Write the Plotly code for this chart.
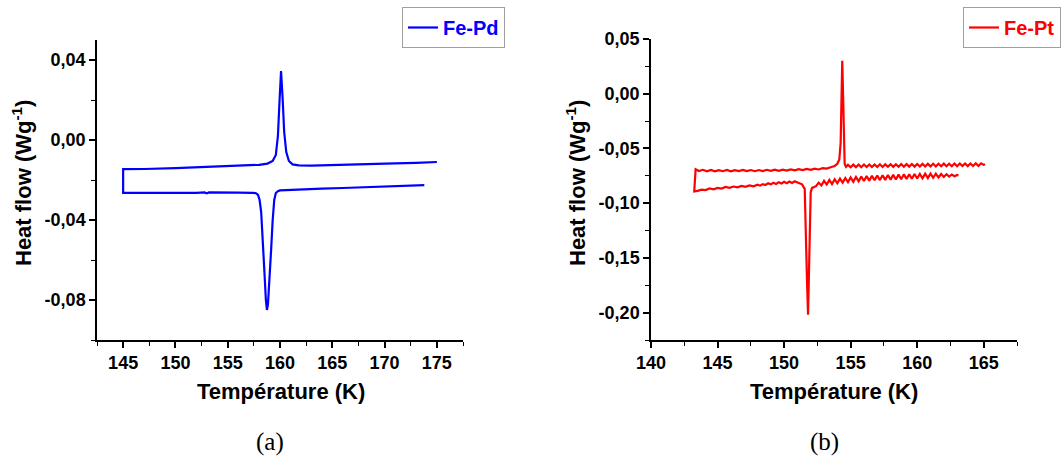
import plotly.graph_objects as go

# ---------------- data ----------------
# Fe-Pd : cooling branch (lower curve), increasing T
fepd_cool_x = [145.0, 146, 148, 150, 152, 152.8, 153.0, 153.2, 154, 156, 157.4, 157.7, 157.9,
               158.05, 158.2, 158.35, 158.5, 158.65, 158.75, 158.85, 159.0, 159.15, 159.3,
               159.45, 159.6, 159.8, 160, 161, 162, 164, 166, 168, 170, 172, 173.8]
fepd_cool_y = [-0.0264, -0.0263, -0.0264, -0.0263, -0.0264, -0.0262, -0.0267, -0.0262, -0.0264,
               -0.0263, -0.0264, -0.0266, -0.0275, -0.030, -0.036, -0.048, -0.065, -0.080,
               -0.085, -0.082, -0.070, -0.055, -0.040, -0.030, -0.0265, -0.0256, -0.0252,
               -0.0249, -0.0247, -0.0243, -0.0240, -0.0237, -0.0233, -0.0230, -0.0226]
# Fe-Pd : heating branch (upper curve), increasing T
fepd_heat_x = [145.0, 145.15, 147, 150, 153, 155, 157, 158, 158.8, 159.3, 159.6, 159.8, 159.95,
               160.1, 160.25, 160.4, 160.6, 160.85, 161.2, 161.8, 163, 165, 168, 171, 173, 175]
fepd_heat_y = [-0.0146, -0.0146, -0.0145, -0.0141, -0.0136, -0.0132, -0.0127, -0.0124, -0.0118,
               -0.0105, -0.0075, 0.0020, 0.0190, 0.0345, 0.0210, 0.0040, -0.0060, -0.0105,
               -0.0122, -0.0127, -0.0128, -0.0126, -0.0122, -0.0117, -0.0114, -0.0110]

# Fe-Pt : cooling branch (lower curve), increasing T
fept_cool_x = [143.25, 143.5, 143.8, 144.1, 144.4, 144.7, 145.0, 145.3, 145.6, 145.9, 146.2,
               146.5, 146.8, 147.1, 147.4, 147.7, 148.0, 148.2, 148.4, 148.6, 148.8, 149.0,
               149.2, 149.4, 149.6, 149.8, 150.0, 150.2, 150.4, 150.6, 150.8, 151.1, 151.35,
               151.5, 151.55, 151.6, 151.65, 151.72, 151.8, 151.88, 151.95, 152.0, 152.1,
               152.25, 152.4, 152.6, 152.8, 153.0, 153.2, 153.4, 153.6, 153.8, 154.0, 154.2,
               154.4, 154.6, 154.8, 155.0, 155.2, 155.4, 155.6, 155.8, 156.0, 156.2, 156.4,
               156.6, 156.8, 157.0, 157.2, 157.4, 157.6, 157.8, 158.0, 158.2, 158.4, 158.6,
               158.8, 159.0, 159.2, 159.4, 159.6, 159.8, 160.0, 160.2, 160.4, 160.6, 160.8,
               161.0, 161.2, 161.4, 161.6, 161.8, 162.0, 162.2, 162.4, 162.6, 162.8, 163.0,
               163.1]
fept_cool_y = [-0.0893, -0.0888, -0.0876, -0.0880, -0.0866, -0.0873, -0.0860, -0.0866, -0.0852,
               -0.0860, -0.0848, -0.0855, -0.0842, -0.0850, -0.0838, -0.0846, -0.0832, -0.0840,
               -0.0826, -0.0834, -0.0818, -0.0828, -0.0813, -0.0824, -0.0808, -0.0820, -0.0804,
               -0.0817, -0.0802, -0.0816, -0.0800, -0.0815, -0.0828, -0.0860, -0.0868, -0.0920,
               -0.1200, -0.1700, -0.2020, -0.1700, -0.1200, -0.0900, -0.0860, -0.0850, -0.0845,
               -0.0812, -0.0838, -0.0796, -0.0830, -0.0788, -0.0826, -0.0782, -0.0818, -0.0776,
               -0.0812, -0.0770, -0.0808, -0.0764, -0.0804, -0.0760, -0.0800, -0.0756, -0.0797,
               -0.0753, -0.0794, -0.0750, -0.0791, -0.0747, -0.0789, -0.0745, -0.0787, -0.0743,
               -0.0785, -0.0741, -0.0783, -0.0739, -0.0781, -0.0737, -0.0779, -0.0735, -0.0777,
               -0.0733, -0.0775, -0.0732, -0.0773, -0.0731, -0.0771, -0.0730, -0.0768, -0.0731,
               -0.0764, -0.0733, -0.0760, -0.0736, -0.0757, -0.0738, -0.0754, -0.0742, -0.0748]
# Fe-Pt : heating branch (upper curve), increasing T
fept_heat_x = [143.25, 143.35, 143.6, 143.9, 144.2, 144.5, 144.8, 145.1, 145.4, 145.7, 146.0,
               146.3, 146.6, 146.9, 147.2, 147.5, 147.8, 148.1, 148.4, 148.7, 149.0, 149.3,
               149.6, 149.9, 150.2, 150.5, 150.8, 151.1, 151.4, 151.7, 152.0, 152.3, 152.6,
               152.9, 153.2, 153.5, 153.8, 154.0, 154.15, 154.25, 154.32, 154.37, 154.42,
               154.48, 154.55, 154.65, 154.8, 155.0, 155.2, 155.4, 155.6, 155.8, 156.0, 156.2,
               156.4, 156.6, 156.8, 157.0, 157.2, 157.4, 157.6, 157.8, 158.0, 158.2, 158.4,
               158.6, 158.8, 159.0, 159.2, 159.4, 159.6, 159.8, 160.0, 160.2, 160.4, 160.6,
               160.8, 161.0, 161.2, 161.4, 161.6, 161.8, 162.0, 162.2, 162.4, 162.6, 162.8,
               163.0, 163.2, 163.4, 163.6, 163.8, 164.0, 164.2, 164.4, 164.6, 164.8, 165.0,
               165.1]
fept_heat_y = [-0.0893, -0.0690, -0.0706, -0.0695, -0.0708, -0.0697, -0.0709, -0.0698, -0.0708,
               -0.0697, -0.0709, -0.0698, -0.0707, -0.0696, -0.0707, -0.0697, -0.0708, -0.0697,
               -0.0706, -0.0695, -0.0705, -0.0694, -0.0704, -0.0693, -0.0702, -0.0691, -0.0700,
               -0.0689, -0.0698, -0.0687, -0.0696, -0.0684, -0.0692, -0.0680, -0.0684, -0.0672,
               -0.0660, -0.0640, -0.0600, -0.0450, -0.0050, 0.0300, 0.0050, -0.0450, -0.0640,
               -0.0668, -0.0650, -0.0672, -0.0648, -0.0671, -0.0647, -0.0671, -0.0647, -0.0670,
               -0.0646, -0.0670, -0.0646, -0.0669, -0.0645, -0.0669, -0.0645, -0.0668, -0.0644,
               -0.0668, -0.0644, -0.0667, -0.0643, -0.0667, -0.0643, -0.0666, -0.0642, -0.0666,
               -0.0642, -0.0665, -0.0641, -0.0665, -0.0641, -0.0664, -0.0640, -0.0664, -0.0640,
               -0.0663, -0.0639, -0.0663, -0.0639, -0.0662, -0.0638, -0.0662, -0.0638, -0.0661,
               -0.0637, -0.0661, -0.0637, -0.0660, -0.0636, -0.0660, -0.0636, -0.0650, -0.0645]

# tick labels
pd_xticks = [145, 150, 155, 160, 165, 170, 175]
pd_yticks = [0.04, 0.00, -0.04, -0.08]
pd_yticktext = ["0,04", "0,00", "-0,04", "-0,08"]
pt_xticks = [140, 145, 150, 155, 160, 165]
pt_yticks = [0.05, 0.00, -0.05, -0.10, -0.15, -0.20]
pt_yticktext = ["0,05", "0,00", "-0,05", "-0,10", "-0,15", "-0,20"]

# ---------------- figure ----------------
W, H = 1062, 459
FONT = "Liberation Sans, Arial, sans-serif"

fig = go.Figure()
fig.add_trace(go.Scatter(
    x=fepd_cool_x[::-1] + fepd_heat_x, y=fepd_cool_y[::-1] + fepd_heat_y,
    mode="lines", name="Fe-Pd", line=dict(color="#0000ff", width=2.2),
    xaxis="x", yaxis="y", legend="legend", showlegend=True))
fig.add_trace(go.Scatter(
    x=fept_cool_x[::-1] + fept_heat_x, y=fept_cool_y[::-1] + fept_heat_y,
    mode="lines", name="Fe-Pt", line=dict(color="#ff0000", width=2.2),
    xaxis="x2", yaxis="y2", legend="legend2", showlegend=True))

axis_common = dict(showline=True, linecolor="black", linewidth=1.5, showgrid=False,
                   zeroline=False, ticks="outside", ticklen=6, tickwidth=1.5,
                   tickcolor="black", automargin=False,
                   tickfont=dict(family=FONT, size=18, color="black", weight="bold"))

fig.update_layout(
    width=W, height=H, margin=dict(l=0, r=0, t=0, b=0, pad=0, autoexpand=False),
    paper_bgcolor="white", plot_bgcolor="white", showlegend=True,
    xaxis=dict(domain=[97 / W, 463 / W], range=[142.5, 177.5], anchor="y",
               tickvals=pd_xticks,
               minor=dict(ticks="outside", dtick=2.5, tick0=142.5, ticklen=4,
                          tickwidth=1.2, tickcolor="black"),
               **axis_common),
    yaxis=dict(domain=[119 / H, 419 / H], range=[-0.10, 0.05], anchor="x",
               tickvals=pd_yticks, ticktext=pd_yticktext,
               minor=dict(ticks="outside", dtick=0.02, tick0=0.0, ticklen=4,
                          tickwidth=1.2, tickcolor="black"),
               **axis_common),
    xaxis2=dict(domain=[651 / W, 1017 / W], range=[140, 167.5], anchor="y2",
                tickvals=pt_xticks,
                minor=dict(ticks="outside", dtick=2.5, tick0=140, ticklen=4,
                           tickwidth=1.2, tickcolor="black"),
                **axis_common),
    yaxis2=dict(domain=[119 / H, 420 / H], range=[-0.225, 0.05], anchor="x2",
                tickvals=pt_yticks, ticktext=pt_yticktext,
                minor=dict(ticks="outside", dtick=0.025, tick0=0.0, ticklen=4,
                           tickwidth=1.2, tickcolor="black"),
                **axis_common),
    legend=dict(x=505 / W, y=1 - 7 / H, xanchor="right", yanchor="top", visible=True,
                bgcolor="white", bordercolor="#a0a0a0", borderwidth=1,
                font=dict(family=FONT, size=20, color="#0000ff", weight="bold"),
                itemwidth=30, tracegroupgap=0),
    legend2=dict(x=1061 / W, y=1 - 7 / H, xanchor="right", yanchor="top", visible=True,
                 bgcolor="white", bordercolor="#a0a0a0", borderwidth=1,
                 font=dict(family=FONT, size=20, color="#ff0000", weight="bold"),
                 itemwidth=30, tracegroupgap=0),
)

title_font = dict(family=FONT, size=22, color="black", weight="bold")
ann = []
# x-axis titles
ann.append(dict(text="Température (K)", x=281 / W, y=1 - 391 / H, xref="paper", yref="paper",
                showarrow=False, font=title_font, xanchor="center", yanchor="middle"))
ann.append(dict(text="Température (K)", x=834 / W, y=1 - 391 / H, xref="paper", yref="paper",
                showarrow=False, font=title_font, xanchor="center", yanchor="middle"))
# y-axis titles
ann.append(dict(text="Heat flow (Wg<sup>-1</sup>)", x=22 / W, y=1 - 183 / H, xref="paper",
                yref="paper", showarrow=False, font=title_font, textangle=-90,
                xanchor="center", yanchor="middle"))
ann.append(dict(text="Heat flow (Wg<sup>-1</sup>)", x=576 / W, y=1 - 183 / H, xref="paper",
                yref="paper", showarrow=False, font=title_font, textangle=-90,
                xanchor="center", yanchor="middle"))
# sub-captions
cap_font = dict(family="Liberation Serif, DejaVu Serif, serif", size=25, color="black")
ann.append(dict(text="(a)", x=270 / W, y=1 - 442 / H, xref="paper", yref="paper",
                showarrow=False, font=cap_font, xanchor="center", yanchor="middle"))
ann.append(dict(text="(b)", x=824 / W, y=1 - 442 / H, xref="paper", yref="paper",
                showarrow=False, font=cap_font, xanchor="center", yanchor="middle"))
fig.update_layout(annotations=ann)

fig.write_html("out.html", config={"displayModeBar": False},
               post_script="document.body.style.margin='0';")
